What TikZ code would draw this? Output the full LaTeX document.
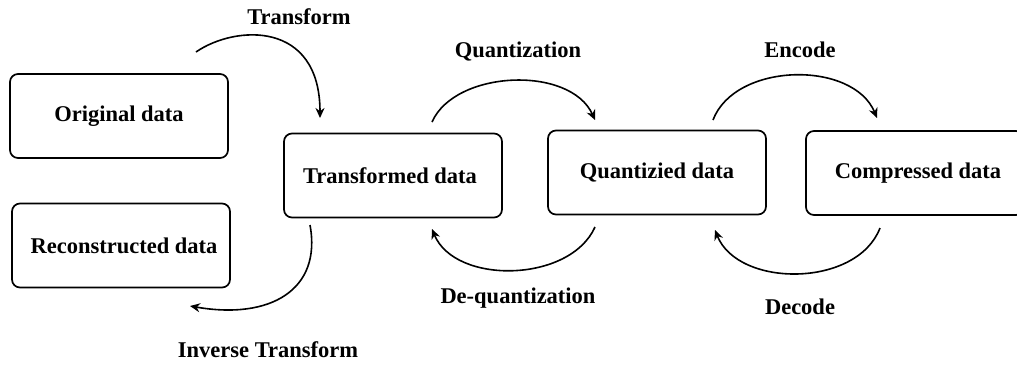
\documentclass[tikz,border=0pt]{standalone}
\usepackage{fontspec}
\setmainfont{Liberation Serif}
\usetikzlibrary{arrows.meta}
\tikzset{
  databox/.style={draw, line width=1.7pt, rounded corners=8pt,
    minimum width=218pt, minimum height=84pt, inner sep=0pt,
    font=\fontsize{22.5}{26}\selectfont\bfseries},
  steplabel/.style={font=\fontsize{22.5}{26}\selectfont\bfseries, inner sep=0pt},
  flow/.style={line width=1.6pt, -{Stealth[length=10pt,width=9pt]}}
}
\begin{document}
\begin{tikzpicture}[x=1pt,y=-1pt]
  \useasboundingbox (0,0) rectangle (1017,365);

  % data boxes
  \node[databox] (orig)  at (119,116)   {Original data};
  \node[databox] (recon) at (121,245.5) {\hspace*{6pt}Reconstructed data};
  \node[databox] (trans) at (393,175.5) {Transformed data\hspace*{6pt}};
  \node[databox] (quant) at (657,172.5) {Quantizied data};
  \node[databox] (comp)  at (915,173)   {\hspace*{6pt}Compressed data};

  % end points of the curved arrows
  \coordinate (t1) at (196,52);   \coordinate (t2) at (320,118);
  \coordinate (i1) at (310,225);  \coordinate (i2) at (190,306);
  \coordinate (q1) at (432,122);  \coordinate (q2) at (595,120);
  \coordinate (d1) at (595,227);  \coordinate (d2) at (432,229);
  \coordinate (e1) at (713,120);  \coordinate (e2) at (877,118);
  \coordinate (c1) at (880,228);  \coordinate (c2) at (715,230);

  % forward and inverse steps
  \draw[flow] (t1) .. controls (235,25) and (320,20) .. (t2);
  \draw[flow] (i1) .. controls (322,290) and (270,320) .. (i2);
  \draw[flow] (q1) .. controls (455,70) and (570,65) .. (q2);
  \draw[flow] (d1) .. controls (570,283) and (455,285) .. (d2);
  \draw[flow] (e1) .. controls (735,62) and (853,60) .. (e2);
  \draw[flow] (c1) .. controls (857,288) and (738,288) .. (c2);

  % step labels
  \node[steplabel] (lt) at (299,17)  {Transform};
  \node[steplabel] (li) at (268,350) {Inverse Transform};
  \node[steplabel] (lq) at (518,52)  {Quantization};
  \node[steplabel] (ld) at (518,298) {De-quantization};
  \node[steplabel] (le) at (800,50)  {Encode};
  \node[steplabel] (lc) at (800,307) {Decode};
\end{tikzpicture}
\end{document}
